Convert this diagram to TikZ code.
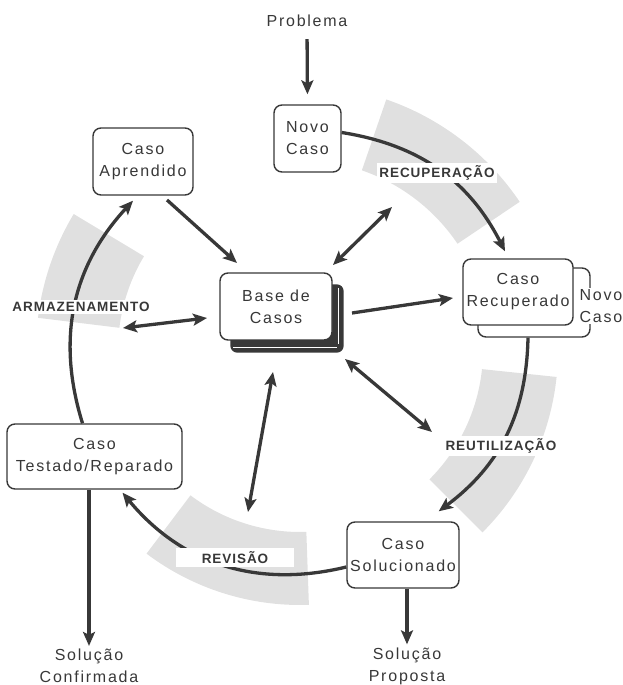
\documentclass[tikz,border=0pt]{standalone}
\usepackage{fontspec}
\setmainfont{Liberation Sans}
\newfontfamily\bxfont{Liberation Sans}[LetterSpace=11]
\newfontfamily\lbfont{Liberation Sans}[LetterSpace=7]
\usetikzlibrary{arrows.meta,calc}
\definecolor{ink}{HTML}{383838}
\definecolor{band}{HTML}{E0E0E0}
\pgfdeclarelayer{bg}
\pgfsetlayers{bg,main}
\begin{document}
\begin{tikzpicture}[x=1pt,y=1pt,
  box/.style={draw=ink, line width=1.4pt, rounded corners=8pt, fill=white, align=center,
    inner sep=0pt, text=ink, font=\bxfont\fontsize{16}{22}\selectfont},
  txt/.style={align=center, inner sep=0pt, text=ink, font=\bxfont\fontsize{16}{22}\selectfont},
  lab/.style={fill=white, inner sep=2.5pt, text=ink, font=\lbfont\bfseries\fontsize{13.5}{15}\selectfont},
  arr/.style={draw=ink, line width=3.3pt, -{Stealth[length=14pt,width=12pt,inset=3pt]}},
  darr/.style={draw=ink, line width=3.3pt, {Stealth[length=14pt,width=12pt,inset=3pt]}-{Stealth[length=14pt,width=12pt,inset=3pt]}}
]
\useasboundingbox (0,0) rectangle (623,685);
\coordinate (C) at (300,335);

% nodes
\node[txt] (problema) at (307,664) {Problema};
\node[box, minimum width=67pt, minimum height=67pt] (novo) at (307.5,546.5) {Novo\\Caso};
\node[box, minimum width=100pt, minimum height=67pt] (aprendido) at (143,523.5) {Caso\\Aprendido};
\node[box, minimum width=112pt, minimum height=67pt] (base) at (276,378.5) {Base de\\Casos};
\node[box, minimum width=112pt, minimum height=69pt] (recupb) at (534,382.5) {};
\node[box, minimum width=110pt, minimum height=66pt] (recup) at (518,393) {Caso\\Recuperado};
\node[txt, fill=white, inner sep=1pt] (novo2) at (601,379) {Novo\\Caso};
\node[box, minimum width=175pt, minimum height=65pt] (testado) at (94.5,228.5) {Caso\\Testado/Reparado};
\node[box, minimum width=112pt, minimum height=66pt] (sol) at (403,130) {Caso\\Solucionado};
\node[txt] (proposta) at (407,19) {Solução\\Proposta};
\node[txt] (confirmada) at (89,19) {Solução\\Confirmada};

% background bands and stack
\begin{pgfonlayer}{bg}
\fill[band] ($(C)+(34:265)$) arc[start angle=34, end angle=71, radius=265]
  -- ($(C)+(71:190)$) arc[start angle=71, end angle=34, radius=190] -- cycle;
\fill[band] ($(C)+(-45:258)$) arc[start angle=-45, end angle=-6, radius=258]
  -- ($(C)+(-6:183)$) arc[start angle=-6, end angle=-45, radius=183] -- cycle;
\fill[band] ($(C)+(-127:255)$) arc[start angle=-127, end angle=-88, radius=255]
  -- ($(C)+(-88:182)$) arc[start angle=-88, end angle=-127, radius=182] -- cycle;
\fill[band] ($(C)+(149:264)$) arc[start angle=149, end angle=173, radius=264]
  -- ($(C)+(173:182)$) arc[start angle=173, end angle=149, radius=182] -- cycle;
\fill[ink, rounded corners=7pt] ($(base.south west)+(11,-12)$) rectangle ($(base.north east)+(11,-12)$);
\draw[white, line width=1pt] ($(base.south west)+(14,-7)$) -- ($(base.south east)+(4,-7)$);
\draw[white, line width=1pt] ($(base.north east)+(6,-16)$) -- ($(base.south east)+(6,-3)$);
\end{pgfonlayer}

% cycle arcs
\draw[arr] ([yshift=6pt]novo.east) to[bend left=27] ($(recup.north)+(-13,7)$);
\draw[arr] ([xshift=-6pt]recupb.south) to[bend left=26] ($(sol.north east)+(-21,10)$);
\draw[arr] ([yshift=-12pt]sol.west) to[bend left=32] ($(testado.south)+(28,-3)$);
\draw[arr] ([xshift=-12pt]testado.north) to[bend left=30] ($(aprendido.south)+(-10,-5)$);

% in/out arrows
\draw[arr, shorten <=12pt, shorten >=10pt] (problema.south) -- (novo.north);
\draw[arr, shorten >=3pt] (proposta.north |- sol.south) -- (proposta.north);
\draw[arr, shorten >=3pt] (confirmada.north |- testado.south) -- (confirmada.north);

% arrows to the case base
\coordinate (a1) at (167,485); \coordinate (a2) at (237,422);
\coordinate (b1) at (333,420); \coordinate (b2) at (392,478);
\coordinate (c1) at (352,372); \coordinate (c2) at (453,387);
\coordinate (d1) at (345,326); \coordinate (d2) at (432,253);
\coordinate (e1) at (273,313); \coordinate (e2) at (248,173);
\coordinate (f1) at (207,367); \coordinate (f2) at (123,357);
\draw[arr] (a1) -- (a2);
\draw[darr] (b1) -- (b2);
\draw[arr] (c1) -- (c2);
\draw[darr] (d1) -- (d2);
\draw[darr] (e1) -- (e2);
\draw[darr] (f1) -- (f2);

% phase labels
\node[lab] (lrec) at (437,512) {RECUPERAÇÃO};
\node[lab] (lreu) at (501,239) {REUTILIZAÇÃO};
\node[lab, minimum width=118pt, minimum height=19pt, inner sep=0pt] (lrev) at (235,127) {REVISÃO};
\node[lab] (larm) at (81,378) {ARMAZENAMENTO};
\end{tikzpicture}
\end{document}
